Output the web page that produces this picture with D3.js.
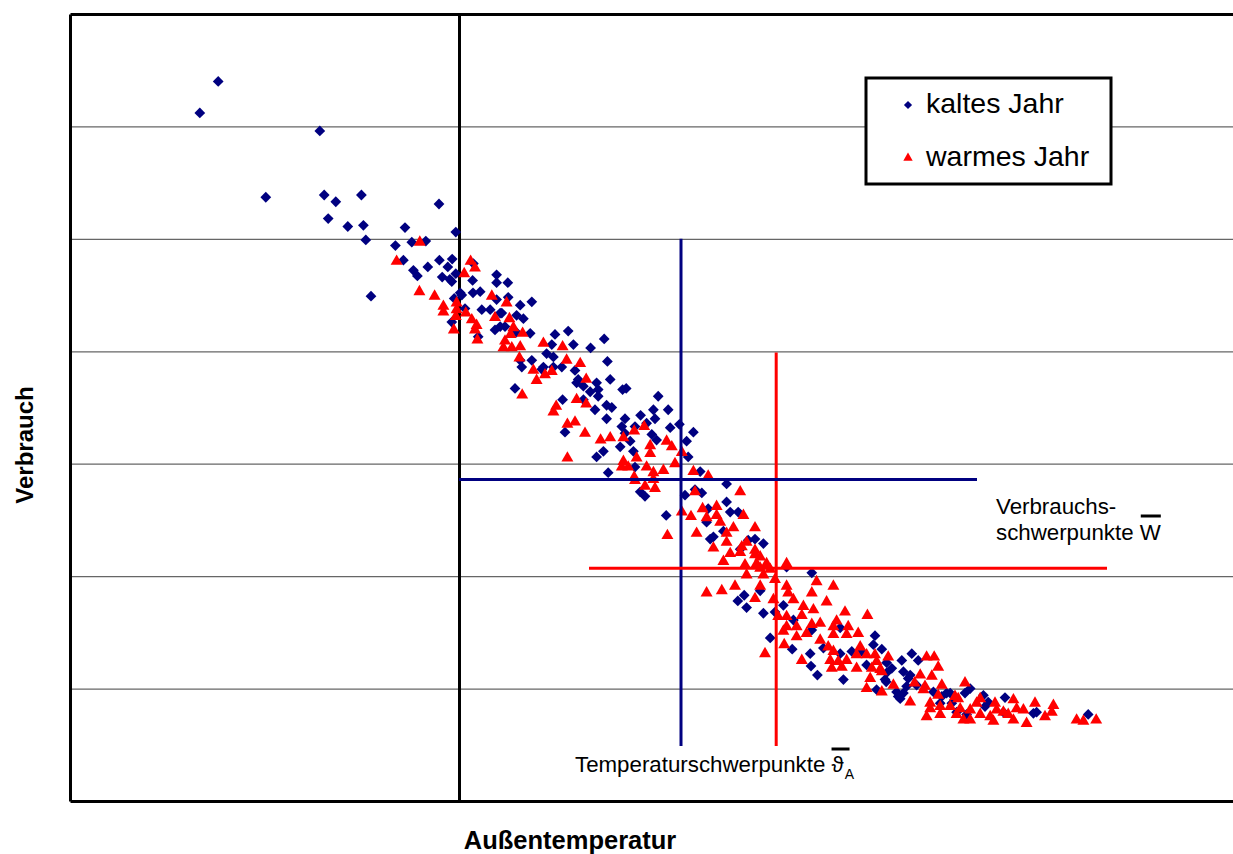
<!DOCTYPE html>
<html>
<head>
<meta charset="utf-8">
<script src="https://cdn.jsdelivr.net/npm/d3@7/dist/d3.min.js"></script>
<style>
  html, body { margin: 0; padding: 0; background: #fff; }
  svg text { font-family: "Liberation Sans", Arial, sans-serif; }
</style>
</head>
<body>
<svg id="chart" width="1233" height="854"></svg>
<script>
// ---------------- data ----------------
// [Außentemperatur, Verbrauch]
const kaltesJahr = [
[-6.02,6.40],[-6.48,6.12],[-3.48,5.96],[-4.83,5.37],[-3.37,5.39],[-3.08,5.33],[-2.44,5.39],[-0.50,5.31],[-3.27,5.18],[-2.78,5.11],
[-2.39,5.12],[-2.33,4.99],[-1.35,5.10],[-0.08,5.06],[-1.59,4.94],[-1.18,4.97],[-0.83,4.98],[-1.39,4.81],[-1.14,4.72],[-1.04,4.67],
[-0.78,4.75],[-0.49,4.81],[-0.17,4.82],[-0.28,4.75],[-0.42,4.66],[-0.18,4.62],[-0.08,4.69],[0.34,4.63],[-2.20,4.49],[0.03,4.52],
[0.35,4.52],[-0.23,4.64],[0.36,4.78],[0.94,4.68],[0.94,4.61],[1.22,4.61],[0.07,4.50],[0.53,4.53],[-0.12,4.47],[0.15,4.38],
[0.57,4.37],[0.78,4.37],[0.94,4.46],[1.07,4.34],[1.53,4.41],[1.82,4.44],[1.44,4.32],[1.61,4.29],[0.90,4.19],[1.15,4.22],
[-0.18,4.26],[0.48,4.13],[2.40,4.15],[2.73,4.18],[2.86,4.06],[2.19,3.98],[2.36,3.95],[2.57,3.86],[1.53,3.92],[1.82,3.92],
[1.57,3.86],[2.11,3.86],[2.90,3.83],[2.94,3.72],[1.40,3.67],[1.23,4.48],[1.03,4.34],[1.03,4.22],[1.43,4.17],[1.78,4.16],
[2.32,4.06],[3.63,4.11],[3.29,4.03],[3.71,3.91],[2.07,3.84],[2.36,3.86],[2.98,3.75],[3.78,3.75],[3.11,3.69],[3.44,3.72],
[3.48,3.66],[3.28,3.64],[3.48,3.60],[2.59,3.57],[3.11,3.57],[3.40,3.48],[3.69,3.52],[3.82,3.50],[4.09,3.66],[4.18,3.67],
[4.98,3.60],[3.69,3.40],[4.15,3.40],[4.86,3.48],[5.23,3.48],[4.54,3.43],[4.90,3.40],[4.07,3.33],[4.40,3.33],[4.69,3.36],
[5.28,3.32],[5.51,3.35],[2.65,3.28],[4.15,3.27],[4.82,3.26],[5.86,3.28],[4.03,3.15],[4.28,3.20],[4.94,3.21],[5.69,3.20],
[4.36,3.11],[3.61,3.11],[3.44,3.06],[5.73,3.06],[3.73,2.92],[4.40,2.97],[4.53,2.75],[4.65,2.71],[5.65,2.72],[5.90,2.77],
[6.07,2.74],[6.03,2.93],[6.69,2.82],[5.18,2.54],[6.69,2.66],[6.78,2.57],[6.98,2.57],[6.23,2.60],[6.19,2.48],[6.36,2.35],
[6.61,2.40],[7.23,2.32],[6.28,2.33],[7.40,2.33],[7.61,2.29],[7.03,2.24],[8.19,2.08],[8.82,2.03],[7.53,1.87],[7.13,1.83],
[6.97,1.78],[7.19,1.72],[8.11,1.74],[7.61,1.67],[7.90,1.68],[8.36,1.61],[7.78,1.45],[9.53,1.54],[8.82,1.52],[8.33,1.35],
[8.78,1.31],[8.80,1.20],[8.96,1.12],[9.61,1.08],[9.11,1.36],[9.53,1.31],[9.82,1.33],[10.07,1.33],[10.40,1.47],[10.36,1.39],
[10.57,1.35],[10.19,1.21],[10.69,1.23],[10.82,1.18],[10.65,1.08],[10.44,0.99],[11.07,1.25],[11.32,1.31],[11.48,1.25],[11.11,1.15],
[11.23,1.09],[10.94,0.97],[11.11,0.96],[11.03,0.91],[11.44,1.03],[11.86,0.97],[12.07,0.93],[12.19,0.96],[12.32,0.87],[10.69,1.14],
[11.28,1.12],[10.68,1.06],[11.19,1.02],[10.98,0.93],[12.28,0.96],[12.65,0.96],[12.78,1.00],[13.11,0.94],[13.23,0.88],[13.15,0.84],
[13.65,0.92],[12.03,0.87],[12.44,0.79],[12.69,0.77],[13.61,0.79],[14.36,0.78],[14.44,0.79],[15.73,0.77]
];
const warmesJahr = [
[-0.98,4.97],[-1.56,4.80],[-0.99,4.53],[-0.61,4.49],[-0.39,4.40],[-0.06,4.43],[0.13,4.69],[0.29,4.80],[0.40,4.74],[0.17,4.34],
[-0.39,4.35],[-0.06,4.37],[-0.08,4.31],[-0.13,4.19],[0.32,4.28],[0.44,4.23],[0.40,4.19],[0.46,4.10],[0.82,4.49],[0.90,4.30],
[1.19,4.43],[1.26,4.29],[1.36,4.21],[1.29,4.15],[1.59,4.16],[1.15,4.09],[1.11,4.03],[1.32,4.03],[1.53,4.04],[1.51,3.94],
[2.11,4.07],[2.59,4.04],[2.69,3.92],[3.03,3.89],[1.86,3.83],[2.32,3.82],[2.15,3.79],[1.94,3.74],[1.58,3.61],[3.18,3.75],
[2.94,3.57],[3.18,3.53],[2.43,3.51],[2.36,3.46],[2.90,3.37],[2.71,3.35],[3.15,3.27],[3.54,3.21],[3.78,3.23],[4.11,3.23],
[4.38,3.29],[4.63,3.33],[2.71,3.05],[4.78,3.16],[4.78,3.09],[5.19,3.20],[5.32,3.15],[5.57,3.10],[4.44,3.05],[4.11,3.02],
[4.07,2.97],[4.23,2.97],[4.69,2.97],[5.40,3.00],[5.11,2.94],[4.86,2.92],[5.86,2.93],[4.38,2.88],[4.40,2.85],[4.65,2.80],
[4.86,2.86],[4.90,2.78],[6.23,2.89],[5.90,2.75],[7.03,2.75],[5.57,2.57],[5.80,2.53],[6.09,2.60],[6.44,2.62],[6.44,2.54],
[6.19,2.52],[7.11,2.54],[6.53,2.48],[6.86,2.43],[7.40,2.43],[5.94,2.38],[5.21,2.36],[6.69,2.38],[6.69,2.30],[6.36,2.25],
[6.78,2.20],[7.07,2.26],[7.19,2.30],[7.40,2.23],[7.03,2.21],[7.40,2.19],[6.61,2.13],[7.53,2.17],[7.69,2.11],[7.44,2.11],
[7.15,2.10],[7.53,2.07],[7.78,2.06],[7.19,2.01],[7.61,2.01],[8.19,2.11],[8.94,1.95],[9.36,1.91],[7.53,1.91],[8.19,1.91],
[8.23,1.85],[7.90,1.97],[6.90,1.91],[6.57,1.87],[6.19,1.85],[7.40,1.80],[7.86,1.79],[8.36,1.79],[8.82,1.85],[9.19,1.77],
[8.61,1.73],[8.86,1.70],[8.57,1.65],[9.65,1.68],[7.98,1.64],[8.19,1.64],[8.19,1.55],[8.44,1.55],[8.11,1.51],[8.82,1.57],
[9.03,1.58],[9.36,1.55],[9.73,1.55],[9.98,1.49],[8.69,1.49],[9.36,1.48],[10.21,1.65],[9.44,1.60],[9.03,1.43],[9.69,1.48],
[8.13,1.39],[7.65,1.31],[8.57,1.25],[9.23,1.37],[9.36,1.33],[9.28,1.25],[9.48,1.24],[9.69,1.25],[10.03,1.37],[9.94,1.30],
[10.19,1.30],[10.40,1.30],[9.32,1.18],[9.57,1.19],[9.94,1.18],[10.32,1.18],[10.53,1.17],[10.44,1.24],[10.28,1.09],[10.19,1.00],
[10.57,0.97],[10.86,1.03],[11.39,1.05],[11.53,1.12],[11.82,1.11],[11.69,1.28],[11.88,1.28],[11.98,1.19],[12.07,1.03],[11.61,0.99],
[11.28,0.88],[11.69,0.75],[11.78,0.82],[12.03,0.77],[12.28,0.84],[12.40,0.93],[12.44,0.77],[10.73,1.28],[10.57,1.15],[11.65,1.02],
[11.98,0.94],[11.78,0.87],[12.03,0.84],[12.48,0.91],[12.65,1.05],[12.53,0.82],[12.61,0.72],[12.78,0.81],[12.78,0.72],[12.94,0.87],
[13.03,0.91],[13.03,0.77],[13.28,0.75],[13.40,0.87],[13.44,0.81],[13.36,0.71],[13.61,0.79],[13.73,0.77],[13.86,0.90],[13.94,0.82],
[13.86,0.72],[14.11,0.81],[14.19,0.69],[14.40,0.87],[14.65,0.75],[14.82,0.79],[14.86,0.85],[15.44,0.72],[15.61,0.71],[15.93,0.72],
[8.44,1.46]
];
// Schwerpunkte (kalt, warm)
const seriesNames = ["kaltes Jahr", "warmes Jahr"];
const schwerpunktTemp = [5.55, 7.93];
const schwerpunktVerbrauch = [2.86, 2.07];
const vertLineFrom = [0.49, 0.49];      // Verbrauch
const vertLineTo = [5.00, 3.99];        // Verbrauch
const horizLineFrom = [0.0, 3.25];      // Temperatur
const horizLineTo = [12.95, 16.20];     // Temperatur
const yGridTicks = [1, 2, 3, 4, 5, 6];
const xDomain = [-9.725, 19.35];
const yDomain = [0, 7];

// ---------------- layout ----------------
(function () {
const svg = d3.select("#chart");
const pLeft = 70, pRight = 1233, pTop = 14, pBottom = 801;
const x = d3.scaleLinear().domain(xDomain).range([pLeft, pRight]);
const y = d3.scaleLinear().domain(yDomain).range([pBottom, pTop]);
const colors = ["#000080", "#ff0000"];

// gridlines
svg.append("g")
  .attr("transform", `translate(${pLeft},0)`)
  .call(d3.axisLeft(y).tickValues(yGridTicks).tickSize(-(pRight - pLeft)).tickFormat(""))
  .call(g => g.select(".domain").remove())
  .call(g => g.selectAll(".tick line").attr("stroke", "#666").attr("stroke-width", 1.2));

// frame lines
svg.append("g").attr("transform", `translate(0,${pBottom})`)
  .call(d3.axisBottom(x).tickValues([]).tickSizeOuter(0))
  .call(g => g.select(".domain").attr("stroke", "#000").attr("stroke-width", 3));
svg.append("g").attr("transform", `translate(0,${pTop})`)
  .call(d3.axisTop(x).tickValues([]).tickSizeOuter(0))
  .call(g => g.select(".domain").attr("stroke", "#000").attr("stroke-width", 3));
svg.append("g").attr("transform", `translate(${pLeft},0)`)
  .call(d3.axisLeft(y).tickValues([]).tickSizeOuter(0))
  .call(g => g.select(".domain").attr("stroke", "#000").attr("stroke-width", 3));
// zero-temperature line
svg.append("g").attr("transform", `translate(${x(0)},0)`)
  .call(d3.axisLeft(y).tickValues([]).tickSizeOuter(0))
  .call(g => g.select(".domain").attr("stroke", "#000").attr("stroke-width", 3));

// markers
const diamond = d3.symbol().type(d3.symbolSquare).size(58);
const triangle = d3.symbol().type(d3.symbolTriangle).size(62);

svg.append("g").selectAll("path").data(kaltesJahr).join("path")
  .attr("d", diamond)
  .attr("transform", d => `translate(${x(d[0])},${y(d[1])}) rotate(45)`)
  .attr("fill", colors[0]);

svg.append("g").selectAll("path").data(warmesJahr).join("path")
  .attr("d", triangle)
  .attr("transform", d => `translate(${x(d[0])},${y(d[1])})`)
  .attr("fill", colors[1]);

// Schwerpunkt lines
const sp = schwerpunktTemp.map((t, i) => ({t, v: schwerpunktVerbrauch[i], i}));
const lineG = svg.append("g");
lineG.selectAll("line.v").data(sp).join("line").attr("class", "v")
  .attr("x1", d => x(d.t)).attr("x2", d => x(d.t))
  .attr("y1", d => y(vertLineFrom[d.i])).attr("y2", d => y(vertLineTo[d.i]))
  .attr("stroke", d => colors[d.i]).attr("stroke-width", 3);
lineG.selectAll("line.h").data(sp).join("line").attr("class", "h")
  .attr("x1", d => x(horizLineFrom[d.i])).attr("x2", d => x(horizLineTo[d.i]))
  .attr("y1", d => y(d.v)).attr("y2", d => y(d.v))
  .attr("stroke", d => colors[d.i]).attr("stroke-width", 3);

// legend
const lg = svg.append("g");
lg.append("rect").attr("x", 866).attr("y", 78).attr("width", 245).attr("height", 106)
  .attr("fill", "#fff").attr("stroke", "#000").attr("stroke-width", 3);
lg.append("path").attr("d", d3.symbol().type(d3.symbolSquare).size(34))
  .attr("transform", "translate(908,105) rotate(45)").attr("fill", colors[0]);
lg.append("path").attr("d", d3.symbol().type(d3.symbolTriangle).size(38))
  .attr("transform", "translate(908,158)").attr("fill", colors[1]);
lg.append("text").attr("x", 926).attr("y", 113).attr("font-size", 28.5).text(seriesNames[0]);
lg.append("text").attr("x", 926).attr("y", 166).attr("font-size", 28.5).text(seriesNames[1]);

// annotations
const fs = 22.3;
const ann = svg.append("g").attr("font-size", fs).attr("fill", "#000");
ann.append("text").attr("x", 996).attr("y", 514).text("Verbrauchs-");
// "schwerpunkte W" with overbar on W
const full2 = ann.append("text").attr("x", 996).attr("y", 540).text("schwerpunkte W");
const fullLen2 = full2.node().getComputedTextLength();
const tmpW = ann.append("text").attr("x", -100).attr("y", -100).text("W");
const wW = tmpW.node().getComputedTextLength();
tmpW.remove();
ann.append("line").attr("x1", 996 + fullLen2 - wW + 1).attr("x2", 996 + fullLen2)
  .attr("y1", 516).attr("y2", 516).attr("stroke", "#000").attr("stroke-width", 3);

// "Temperaturschwerpunkte ϑ_A" with overbar
const t3 = ann.append("text").attr("x", 575).attr("y", 772);
t3.append("tspan").text("Temperaturschwerpunkte \u03D1");
t3.append("tspan").attr("font-size", 14).attr("dy", 7).attr("dx", 1).text("A");
const tmp3 = ann.append("text").attr("x", -100).attr("y", -100).text("Temperaturschwerpunkte \u03D1");
const lenToTheta = tmp3.node().getComputedTextLength();
tmp3.text("\u03D1");
const thW = tmp3.node().getComputedTextLength();
tmp3.remove();
const thetaStart = 575 + lenToTheta - thW;
ann.append("line").attr("x1", thetaStart).attr("x2", thetaStart + 18)
  .attr("y1", 749).attr("y2", 749).attr("stroke", "#000").attr("stroke-width", 3);

// axis titles
svg.append("text").attr("x", 570).attr("y", 849).attr("text-anchor", "middle")
  .attr("font-size", 25.5).attr("font-weight", "bold").text("Außentemperatur");
svg.append("text").attr("transform", "translate(33,445) rotate(-90)").attr("text-anchor", "middle")
  .attr("font-size", 24).attr("font-weight", "bold").text("Verbrauch");
})();
</script>
</body>
</html>
